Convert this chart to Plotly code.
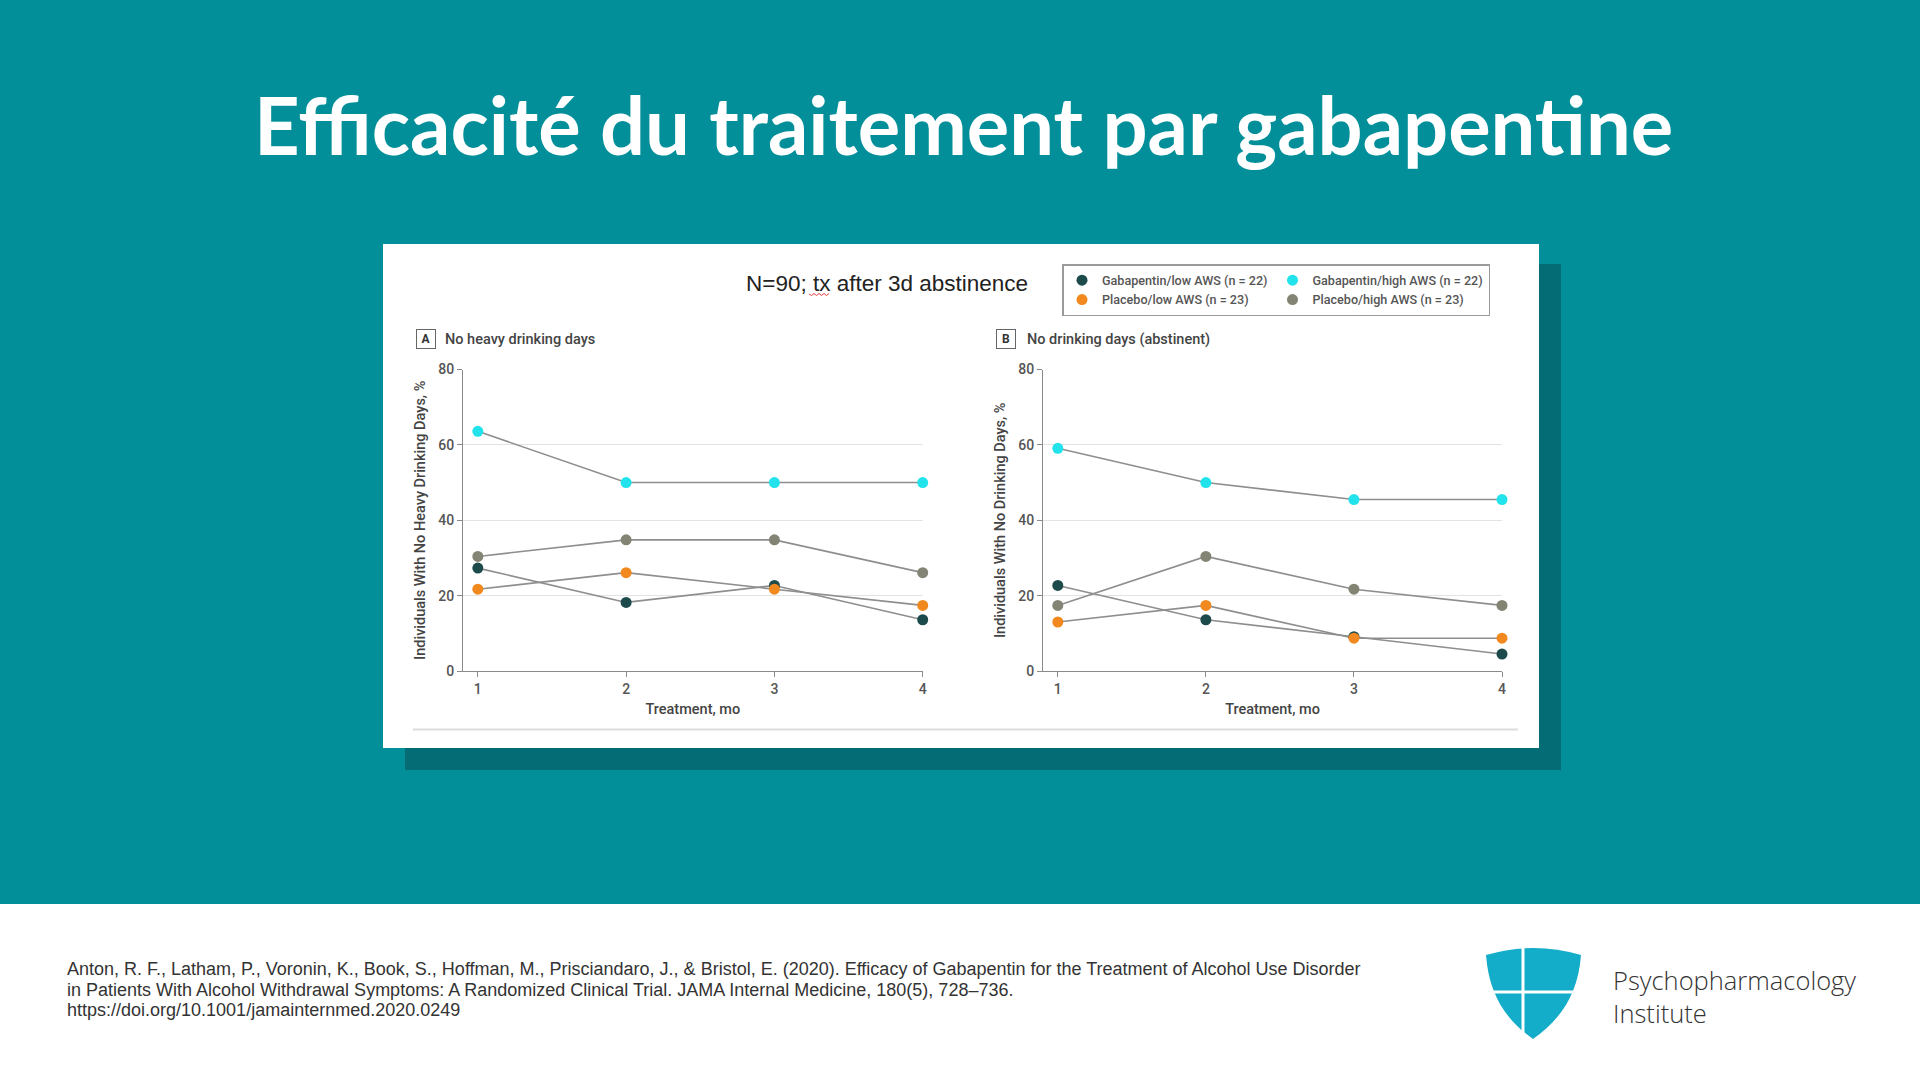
import plotly.graph_objects as go

# ---------------- data ----------------
months = [1, 2, 3, 4]
month_ticks = ["1", "2", "3", "4"]
y_ticks = [0, 20, 40, 60, 80]

series_names = [
    "Gabapentin/low AWS (n = 22)",
    "Gabapentin/high AWS (n = 22)",
    "Placebo/low AWS (n = 23)",
    "Placebo/high AWS (n = 23)",
]
series_colors = ["#1d4b4c", "#22e3ec", "#f2891e", "#838474"]
series_groups = ["low", "high", "low", "high"]

# Panel A: No heavy drinking days (%)
a_gab_low = [27.3, 18.2, 22.7, 13.6]
a_gab_high = [63.6, 50.0, 50.0, 50.0]
a_plc_low = [21.7, 26.1, 21.7, 17.4]
a_plc_high = [30.4, 34.8, 34.8, 26.1]

# Panel B: No drinking days (abstinent) (%)
b_gab_low = [22.7, 13.6, 9.1, 4.5]
b_gab_high = [59.1, 50.0, 45.5, 45.5]
b_plc_low = [13.0, 17.4, 8.7, 8.7]
b_plc_high = [17.4, 30.4, 21.7, 17.4]

panel_a = [a_gab_low, a_gab_high, a_plc_low, a_plc_high]
panel_b = [b_gab_low, b_gab_high, b_plc_low, b_plc_high]

# ---------------- geometry helpers (page pixels -> paper) ----------------
W, H = 1920, 1080


def px(x):
    return x / W


def py(y):
    return 1 - y / H


TEAL = "#028f99"
SHADOW = "#036c75"
JAMA_FONT = "Roboto"

fig = go.Figure()

panels = [("x", "y", panel_a), ("x2", "y2", panel_b)]

# lines first (under all markers)
for xa, ya, data in panels:
    for i, vals in enumerate(data):
        fig.add_trace(go.Scatter(
            x=months, y=vals, mode="lines", xaxis=xa, yaxis=ya,
            line=dict(color="#8e8e8e", width=1.6),
            legendgroup=series_groups[i], showlegend=False,
            hoverinfo="skip", cliponaxis=False,
        ))

for k, (xa, ya, data) in enumerate(panels):
    for i, vals in enumerate(data):
        fig.add_trace(go.Scatter(
            x=months, y=vals, mode="markers", xaxis=xa, yaxis=ya,
            name=series_names[i],
            marker=dict(color=series_colors[i], size=11, line=dict(width=0)),
            legendgroup=series_groups[i], showlegend=(k == 0),
            cliponaxis=False,
        ))

axis_common = dict(
    showline=True, linecolor="#8a8a8a", linewidth=1,
    ticks="outside", ticklen=5, tickcolor="#8a8a8a", tickwidth=1,
    zeroline=False, automargin=False,
    tickfont=dict(family=JAMA_FONT, size=14, color="#555555", weight=500),
)

title_font = dict(family=JAMA_FONT, size=14.5, color="#444444", weight=500)
x_range = [0.9, 4.0]
y_dom = [py(671), py(369.5)]

fig.update_layout(
    template="none",
    width=W, height=H,
    margin=dict(l=0, r=0, t=0, b=0, pad=0, autoexpand=False),
    paper_bgcolor=TEAL,
    plot_bgcolor="rgba(0,0,0,0)",
    xaxis=dict(domain=[px(463), px(922.7)], range=x_range, anchor="y",
               tickvals=months, ticktext=month_ticks, showgrid=False,
               title=dict(text="Treatment, mo", standoff=8, font=title_font),
               **axis_common),
    yaxis=dict(domain=y_dom, range=[0, 80], anchor="x", tickvals=y_ticks,
               showgrid=True, gridcolor="#e3e3e3", gridwidth=1,
               title=dict(text="Individuals With No Heavy Drinking Days, %", standoff=9,
                          font=title_font),
               **axis_common),
    xaxis2=dict(domain=[px(1043), px(1502)], range=x_range, anchor="y2",
                tickvals=months, ticktext=month_ticks, showgrid=False,
                title=dict(text="Treatment, mo", standoff=8, font=title_font),
                **axis_common),
    yaxis2=dict(domain=y_dom, range=[0, 80], anchor="x2", tickvals=y_ticks,
                showgrid=True, gridcolor="#e3e3e3", gridwidth=1,
                title=dict(text="Individuals With No Drinking Days, %", standoff=9,
                           font=title_font),
                **axis_common),
    legend=dict(
        x=px(1062), y=py(264), xanchor="left", yanchor="top",
        orientation="h", traceorder="grouped", tracegroupgap=0,
        bgcolor="white", bordercolor="#9a9a9a", borderwidth=1.5,
        font=dict(family=JAMA_FONT, size=12.6, color="#555555", weight=500),
        itemwidth=30,
    ),
    showlegend=True,
)

shapes = []
# white footer band
shapes.append(dict(type="rect", xref="paper", yref="paper", x0=0, x1=1,
                   y0=0, y1=py(904), fillcolor="white", line=dict(width=0), layer="below"))
# card shadow
shapes.append(dict(type="rect", xref="paper", yref="paper", x0=px(405), x1=px(1561),
                   y0=py(770), y1=py(264), fillcolor=SHADOW, line=dict(width=0), layer="below"))
# white card
shapes.append(dict(type="rect", xref="paper", yref="paper", x0=px(383), x1=px(1539),
                   y0=py(748), y1=py(244), fillcolor="white", line=dict(width=0), layer="below"))
# thin separator at card bottom
shapes.append(dict(type="line", xref="paper", yref="paper", x0=px(413), x1=px(1518),
                   y0=py(729.5), y1=py(729.5), line=dict(color="#dcdcdc", width=2), layer="below"))
# spell-check squiggle under "tx"
sq = [(809, 294)]
for j in range(1, 9):
    sq.append((809 + j * 2.5, 294 + (1.5 if j % 2 else -0.5)))
sq_path = "M " + " L ".join(f"{px(a)},{py(b)}" for a, b in sq)
shapes.append(dict(type="path", xref="paper", yref="paper", path=sq_path,
                   line=dict(color="#e0403a", width=1)))

# logo shield


def P(x, y):
    return f"{px(x)},{py(y)}"


shield = (f"M {P(1486,955)} Q {P(1533,941)} {P(1581,955)} "
          f"C {P(1578,995)} {P(1560,1020)} {P(1533,1039)} "
          f"C {P(1506,1020)} {P(1489,995)} {P(1486,955)} Z")
shapes.append(dict(type="path", xref="paper", yref="paper", path=shield,
                   fillcolor="#13acc9", line=dict(width=0)))
shapes.append(dict(type="line", xref="paper", yref="paper", x0=px(1523), x1=px(1523),
                   y0=py(940), y1=py(1042), line=dict(color="white", width=3)))
shapes.append(dict(type="line", xref="paper", yref="paper", x0=px(1480), x1=px(1590),
                   y0=py(992), y1=py(992), line=dict(color="white", width=3)))

fig.update_layout(shapes=shapes)

ann = []
# main title
ann.append(dict(text="Efficacité du traitement par gabapentine", xref="paper", yref="paper",
                x=px(963), y=py(124), xanchor="center", yanchor="middle", showarrow=False,
                font=dict(family="Lato", size=79.5, color="white", weight="bold")))
# card title
ann.append(dict(text="N=90; tx after 3d abstinence", xref="paper", yref="paper",
                x=px(887), y=py(283), xanchor="center", yanchor="middle", showarrow=False,
                font=dict(family="Liberation Sans", size=22.5, color="#222222")))
# panel labels
for letter, bx, tx, label in [("A", 426, 443, "No heavy drinking days"),
                              ("B", 1006, 1025, "No drinking days (abstinent)")]:
    ann.append(dict(text=f"<b>{letter}</b>", xref="paper", yref="paper", x=px(bx), y=py(339),
                    xanchor="center", yanchor="middle", showarrow=False,
                    width=16, height=16, bordercolor="#666666", borderwidth=1, borderpad=1,
                    font=dict(family=JAMA_FONT, size=12, color="#333333")))
    ann.append(dict(text=label, xref="paper", yref="paper", x=px(tx), y=py(339),
                    xanchor="left", yanchor="middle", showarrow=False,
                    font=dict(family=JAMA_FONT, size=14.5, color="#444444", weight=500)))
# citation
cite_lines = [
    "Anton, R. F., Latham, P., Voronin, K., Book, S., Hoffman, M., Prisciandaro, J., & Bristol, E. (2020). Efficacy of Gabapentin for the Treatment of Alcohol Use Disorder",
    "in Patients With Alcohol Withdrawal Symptoms: A Randomized Clinical Trial. JAMA Internal Medicine, 180(5), 728–736.",
    "https://doi.org/10.1001/jamainternmed.2020.0249",
]
for ln, yy in zip(cite_lines, [969, 989.5, 1010]):
    ann.append(dict(text=ln, xref="paper", yref="paper", x=px(65), y=py(yy),
                    xanchor="left", yanchor="middle", showarrow=False,
                    font=dict(family="Liberation Sans", size=18, color="#333333")))
# logo text (one two-line annotation)
ann.append(dict(text="Psychopharmacology<br>Institute", xref="paper", yref="paper",
                x=px(1611), y=py(996), xanchor="left", yanchor="middle", showarrow=False,
                align="left",
                font=dict(family="Open Sans", size=25.5, color="#333333", weight=300)))

fig.update_layout(annotations=ann)

fig.write_html("out.html", config={"displayModeBar": False},
               post_script="document.body.style.margin='0';")
